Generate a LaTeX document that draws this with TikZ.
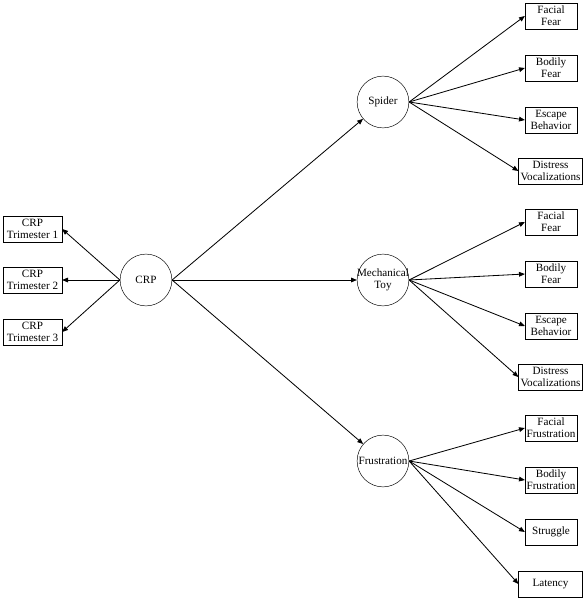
\documentclass[tikz,border=0pt]{standalone}
\usepackage{fontspec}
\setmainfont{Liberation Serif}
\usetikzlibrary{arrows.meta}
\begin{document}
\begin{tikzpicture}[x=0.03cm,y=-0.03cm,>={Triangle[length=5pt,width=4pt]},
	every node/.style={font=\fontsize{9.5}{10.5}\selectfont},
	latent/.style={draw,circle,minimum size=44.2pt,inner sep=0pt},
	ind/.style={draw,rectangle,minimum width=44.2pt,minimum height=22.1pt,inner sep=1pt,align=center},
	wide/.style={ind,minimum width=54.4pt},
	tri/.style={ind,minimum width=50.2pt},
	arr/.style={->,line width=0.7pt}]
	\useasboundingbox (0,0) rectangle (587,600);
	% latent variables
	\node[latent] (crp) at (146,280) {CRP};
	\node[latent] (spider) at (383,102) {Spider};
	\node[latent] (toy) at (383,280) {};
	\node[align=center] (toylbl) at (toy) {Mechanical\\Toy};
	\node[latent] (frus) at (383,461) {};
	\node (fruslbl) at (frus) {Frustration};
	% trimesters
	\node[tri] (t1) at (32.5,229) {CRP\\Trimester 1};
	\node[tri] (t2) at (32.5,280) {CRP\\Trimester 2};
	\node[tri] (t3) at (32.5,332) {CRP\\Trimester 3};
	% spider indicators
	\node[ind] (s1) at (551,16) {Facial\\Fear};
	\node[ind] (s2) at (551,68) {Bodily\\Fear};
	\node[ind] (s3) at (551,120) {Escape\\Behavior};
	\node[wide] (s4) at (550.5,171) {Distress\\Vocalizations};
	% toy indicators
	\node[ind] (m1) at (551,222) {Facial\\Fear};
	\node[ind] (m2) at (551,274) {Bodily\\Fear};
	\node[ind] (m3) at (551,326) {Escape\\Behavior};
	\node[wide] (m4) at (550.5,377) {Distress\\Vocalizations};
	% frustration indicators
	\node[ind] (f1) at (551,428) {Facial\\Frustration};
	\node[ind] (f2) at (551,480) {Bodily\\Frustration};
	\node[ind] (f3) at (551,532) {Struggle};
	\node[wide] (f4) at (550.5,584) {Latency};
	% paths
	\foreach \t in {t1,t2,t3}\draw[arr] (crp.west) -- (\t.east);
	\foreach \l in {spider,toy,frus}\draw[arr] (crp.east) -- (\l);
	\foreach \i in {1,2,3,4}{
		\draw[arr] (spider.east) -- (s\i.west);
		\draw[arr] (toy.east) -- (m\i.west);
		\draw[arr] (frus.east) -- (f\i.west);
	}
\end{tikzpicture}
\end{document}
